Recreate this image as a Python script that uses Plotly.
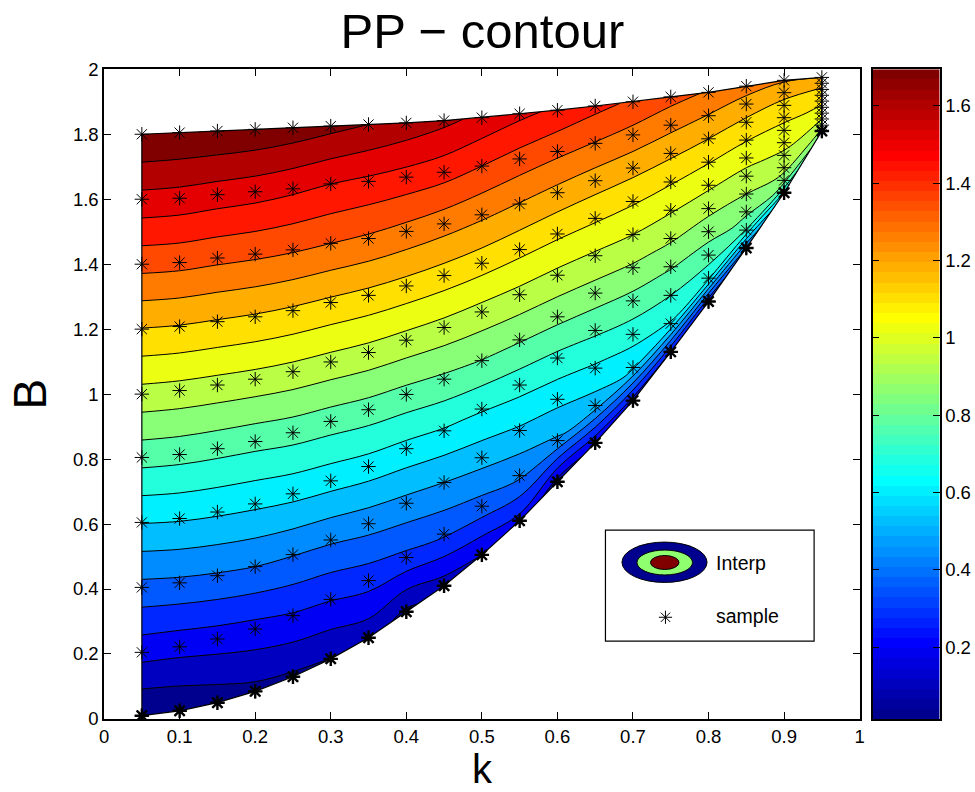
import numpy as np
import plotly.graph_objects as go

# ---------- data ----------
k_values = [0.05, 0.10, 0.15, 0.20, 0.25, 0.30, 0.35, 0.40, 0.45, 0.50,
            0.55, 0.60, 0.65, 0.70, 0.75, 0.80, 0.85, 0.90, 0.95]
sample_rows = [0, 1, 2, 3, 4, 5, 6, 7, 8, 9]

B_k05 = [0.010, 0.205, 0.405, 0.605, 0.805, 1.000, 1.200, 1.400, 1.600, 1.800]
B_k10 = [0.025, 0.222, 0.419, 0.617, 0.814, 1.011, 1.208, 1.405, 1.603, 1.805]
B_k15 = [0.050, 0.246, 0.441, 0.637, 0.832, 1.028, 1.223, 1.419, 1.614, 1.810]
B_k20 = [0.085, 0.277, 0.469, 0.662, 0.854, 1.046, 1.238, 1.431, 1.623, 1.815]
B_k25 = [0.130, 0.318, 0.506, 0.693, 0.881, 1.069, 1.257, 1.444, 1.632, 1.820]
B_k30 = [0.185, 0.368, 0.551, 0.733, 0.916, 1.099, 1.282, 1.464, 1.647, 1.825]
B_k35 = [0.250, 0.426, 0.601, 0.777, 0.952, 1.128, 1.304, 1.479, 1.655, 1.830]
B_k40 = [0.330, 0.497, 0.664, 0.832, 0.999, 1.166, 1.333, 1.501, 1.668, 1.835]
B_k45 = [0.410, 0.569, 0.728, 0.887, 1.046, 1.205, 1.365, 1.524, 1.683, 1.842]
B_k50 = [0.505, 0.655, 0.804, 0.954, 1.103, 1.253, 1.403, 1.552, 1.702, 1.851]
B_k55 = [0.610, 0.749, 0.888, 1.028, 1.167, 1.306, 1.445, 1.585, 1.724, 1.863]
B_k60 = [0.730, 0.857, 0.984, 1.111, 1.238, 1.366, 1.493, 1.620, 1.747, 1.874]
B_k65 = [0.850, 0.965, 1.080, 1.196, 1.311, 1.426, 1.541, 1.657, 1.772, 1.887]
B_k70 = [0.980, 1.082, 1.184, 1.287, 1.389, 1.491, 1.593, 1.696, 1.798, 1.900]
B_k75 = [1.130, 1.217, 1.304, 1.392, 1.479, 1.566, 1.653, 1.741, 1.828, 1.915]
B_k80 = [1.285, 1.357, 1.428, 1.500, 1.571, 1.643, 1.714, 1.786, 1.857, 1.929]
B_k85 = [1.450, 1.505, 1.561, 1.616, 1.671, 1.727, 1.782, 1.837, 1.893, 1.948]
B_k90 = [1.620, 1.658, 1.697, 1.735, 1.774, 1.812, 1.851, 1.889, 1.928, 1.966]
B_k95 = [1.810, 1.828, 1.847, 1.865, 1.883, 1.902, 1.920, 1.938, 1.957, 1.975]

PP_k05 = [0.014, 0.204, 0.391, 0.577, 0.764, 0.946, 1.131, 1.321, 1.508, 1.694]
PP_k10 = [0.024, 0.204, 0.398, 0.582, 0.762, 0.946, 1.130, 1.318, 1.502, 1.690]
PP_k15 = [0.046, 0.214, 0.406, 0.586, 0.761, 0.946, 1.128, 1.314, 1.494, 1.686]
PP_k20 = [0.070, 0.226, 0.414, 0.590, 0.761, 0.946, 1.126, 1.310, 1.486, 1.678]
PP_k25 = [0.080, 0.246, 0.418, 0.598, 0.768, 0.946, 1.122, 1.302, 1.470, 1.662]
PP_k30 = [0.092, 0.258, 0.426, 0.606, 0.772, 0.946, 1.118, 1.294, 1.454, 1.638]
PP_k35 = [0.118, 0.286, 0.446, 0.618, 0.779, 0.946, 1.112, 1.282, 1.438, 1.614]
PP_k40 = [0.078, 0.314, 0.470, 0.630, 0.787, 0.946, 1.106, 1.268, 1.424, 1.586]
PP_k45 = [0.134, 0.346, 0.494, 0.646, 0.798, 0.946, 1.098, 1.250, 1.406, 1.554]
PP_k50 = [0.174, 0.382, 0.526, 0.662, 0.812, 0.946, 1.090, 1.230, 1.374, 1.514]
PP_k55 = [0.222, 0.430, 0.562, 0.686, 0.822, 0.950, 1.078, 1.210, 1.342, 1.474]
PP_k60 = [0.142, 0.482, 0.598, 0.714, 0.838, 0.954, 1.070, 1.190, 1.314, 1.438]
PP_k65 = [0.190, 0.534, 0.642, 0.750, 0.858, 0.962, 1.066, 1.174, 1.290, 1.398]
PP_k70 = [0.214, 0.590, 0.690, 0.786, 0.882, 0.974, 1.064, 1.162, 1.266, 1.362]
PP_k75 = [0.254, 0.646, 0.734, 0.822, 0.906, 0.982, 1.062, 1.150, 1.238, 1.322]
PP_k80 = [0.270, 0.678, 0.774, 0.846, 0.918, 0.990, 1.058, 1.134, 1.210, 1.286]
PP_k85 = [0.414, 0.726, 0.838, 0.894, 0.950, 1.002, 1.058, 1.118, 1.182, 1.250]
PP_k90 = [0.654, 0.854, 0.918, 0.958, 0.998, 1.030, 1.070, 1.110, 1.162, 1.222]
PP_k95 = [0.878, 0.918, 0.974, 1.006, 1.042, 1.070, 1.098, 1.126, 1.158, 1.214]

legend_sample_k = [0.743]
legend_sample_B = [0.313]

x_ticks = [0, 0.1, 0.2, 0.3, 0.4, 0.5, 0.6, 0.7, 0.8, 0.9, 1]
y_ticks = [0, 0.2, 0.4, 0.6, 0.8, 1, 1.2, 1.4, 1.6, 1.8, 2]
cbar_ticks = [0.2, 0.4, 0.6, 0.8, 1, 1.2, 1.4, 1.6]
cbar_min, cbar_max = 0.014, 1.695

# ---------- assembly ----------
B_cols = [B_k05, B_k10, B_k15, B_k20, B_k25, B_k30, B_k35, B_k40, B_k45, B_k50,
          B_k55, B_k60, B_k65, B_k70, B_k75, B_k80, B_k85, B_k90, B_k95]
PP_cols = [PP_k05, PP_k10, PP_k15, PP_k20, PP_k25, PP_k30, PP_k35, PP_k40, PP_k45, PP_k50,
           PP_k55, PP_k60, PP_k65, PP_k70, PP_k75, PP_k80, PP_k85, PP_k90, PP_k95]
B_grid = np.array(B_cols).T
PP_grid = np.array(PP_cols).T
K_grid = np.tile(np.array(k_values), (len(sample_rows), 1))

JET = [[0.0, "#00008f"], [0.111, "#0000ff"], [0.365, "#00ffff"],
       [0.619, "#ffff00"], [0.873, "#ff0000"], [1.0, "#800000"]]

W, H = 975, 792
# pixel -> paper fraction (the renderer keeps a small inner margin)
def px(x): return ((x - 5) / 0.989) / W
def py(y): return 1 - ((y - 8.5) / 0.977) / H

FONT = "Liberation Sans, Arial, sans-serif"
hidden_carpet_axis = dict(showgrid=False, showline=False, showticklabels="none",
                          startline=False, endline=False, minorgridcount=0, smoothing=0,
                          type="linear")

fig = go.Figure()
fig.add_trace(go.Carpet(a=k_values, b=sample_rows, x=K_grid.tolist(), y=B_grid.tolist(),
                        carpet="grid", aaxis=hidden_carpet_axis, baxis=hidden_carpet_axis,
                        xaxis="x", yaxis="y"))
fig.add_trace(go.Contourcarpet(a=k_values, b=sample_rows, z=PP_grid.tolist(), carpet="grid",
                               autocontour=False,
                               contours=dict(start=0.094, end=1.614, size=0.08, coloring="fill",
                                             showlines=True),
                               line=dict(color="black", width=1),
                               colorscale=JET, zmin=0.054, zmax=1.654, showscale=False,
                               xaxis="x", yaxis="y"))
# outline of the sampled region
outline_x = list(K_grid[0]) + list(K_grid[:, -1]) + list(K_grid[-1][::-1]) + list(K_grid[::-1, 0])
outline_y = list(B_grid[0]) + list(B_grid[:, -1]) + list(B_grid[-1][::-1]) + list(B_grid[::-1, 0])
fig.add_trace(go.Scatter(x=outline_x, y=outline_y, mode="lines",
                         line=dict(color="black", width=1.2), hoverinfo="skip", showlegend=False))
# samples
fig.add_trace(go.Scatter(x=K_grid.T.ravel().tolist(), y=B_grid.T.ravel().tolist(), mode="markers",
                         marker=dict(symbol="asterisk-open", size=12, color="black",
                                     line=dict(color="black", width=1)),
                         name="sample", showlegend=False))
# the lowest sample of each k is drawn heavier in the reference (repeated points)
fig.add_trace(go.Scatter(x=K_grid[0].tolist(), y=B_grid[0].tolist(), mode="markers",
                         marker=dict(symbol="asterisk-open", size=12, color="black",
                                     line=dict(color="black", width=2.4)),
                         hoverinfo="skip", showlegend=False))
fig.add_trace(go.Scatter(x=legend_sample_k, y=legend_sample_B, mode="markers",
                         marker=dict(symbol="asterisk-open", size=11, color="black",
                                     line=dict(color="black", width=1)),
                         hoverinfo="skip", showlegend=False))
# colour bar
n_bins = 64
fig.add_trace(go.Heatmap(z=[[i] for i in range(n_bins)], x=[0, 1],
                         y=np.linspace(cbar_min, cbar_max, n_bins + 1).tolist(),
                         colorscale=JET, zmin=0, zmax=n_bins - 1, showscale=False,
                         xaxis="x2", yaxis="y2", hoverinfo="skip"))

axis_common = dict(showgrid=False, zeroline=False, showline=True, linecolor="black", linewidth=1.5,
                   mirror="ticks", ticks="inside", ticklen=7, tickwidth=1, tickcolor="black",
                   tickfont=dict(family=FONT, size=18.5, color="black"))

fig.update_layout(
    width=W, height=H, autosize=False, margin=dict(l=0, r=0, t=0, b=0),
    paper_bgcolor="white", plot_bgcolor="rgba(0,0,0,0)", showlegend=False,
    font=dict(family=FONT, color="black"),
    title=dict(text="PP − contour", x=px(482), xref="paper", xanchor="center",
               y=py(28), yref="paper", yanchor="middle",
               font=dict(family=FONT, size=49, color="black")),
    xaxis=dict(axis_common, domain=[px(104), px(859)], range=[0, 1], tickvals=x_ticks,
               ticktext=[str(v) for v in x_ticks], anchor="y"),
    yaxis=dict(axis_common, domain=[py(719), py(67)], range=[0, 2], tickvals=y_ticks,
               ticktext=[str(v) for v in y_ticks], anchor="x",
               title=dict(text="B", font=dict(family=FONT, size=46), standoff=12)),
    xaxis2=dict(domain=[px(872), px(939)], range=[0, 1], showticklabels=False, ticks="",
                showgrid=False, zeroline=False, showline=True, linecolor="black", linewidth=1.5,
                mirror=True, anchor="y2"),
    yaxis2=dict(axis_common, domain=[py(719), py(67)], range=[cbar_min, cbar_max],
                tickvals=cbar_ticks, ticktext=[str(v) for v in cbar_ticks],
                anchor="x2", side="right"),
    shapes=[
        dict(type="rect", xref="paper", yref="paper", layer="below",
             x0=px(605), x1=px(813.5), y0=py(641), y1=py(529.5),
             line=dict(color="black", width=1.2), fillcolor="white"),
        dict(type="circle", xref="paper", yref="paper", layer="below",
             x0=px(621.5), x1=px(706.5), y0=py(582), y1=py(541.5),
             line=dict(color="black", width=1), fillcolor="#00008f"),
        dict(type="circle", xref="paper", yref="paper", layer="below",
             x0=px(636.5), x1=px(692), y0=py(574.5), y1=py(549.5),
             line=dict(color="black", width=1), fillcolor="#8fff70"),
        dict(type="circle", xref="paper", yref="paper", layer="below",
             x0=px(650), x1=px(678.5), y0=py(569), y1=py(555),
             line=dict(color="black", width=1), fillcolor="#800000"),
    ],
    annotations=[
        dict(text="k", xref="paper", yref="paper", x=px(482), y=py(769), xanchor="center",
             yanchor="middle", showarrow=False, font=dict(family=FONT, size=40, color="black"),
             borderpad=0),
        dict(text="Interp", xref="paper", yref="paper", x=px(713), y=py(562), xanchor="left",
             yanchor="middle", showarrow=False, font=dict(family=FONT, size=19.5, color="black")),
        dict(text="sample", xref="paper", yref="paper", x=px(713), y=py(616), xanchor="left",
             yanchor="middle", showarrow=False, font=dict(family=FONT, size=19.5, color="black")),
    ],
)

fig.write_html("out.html", config={"displayModeBar": False},
               post_script="document.body.style.margin='0';")
